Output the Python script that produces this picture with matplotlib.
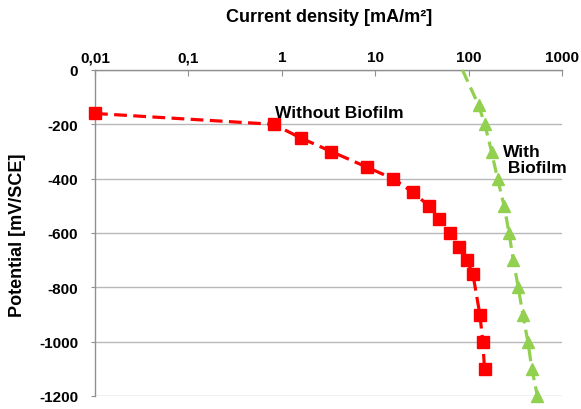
import matplotlib
matplotlib.use("Agg")
import matplotlib.pyplot as plt
import numpy as np

plt.rcParams['font.family'] = ['Liberation Sans', 'DejaVu Sans']

# Data
without_current = [0.01, 0.82, 1.59, 3.38, 8.07, 15.5, 25.3, 37.5, 48, 63.8, 79.6, 95.3, 111, 132, 142, 148]
without_potential = [-160, -200, -250, -300, -357, -400, -450, -500, -550, -600, -650, -700, -750, -900, -1000, -1100]

with_current = [86, 128, 149, 176, 204, 240, 271, 301, 340, 381, 431, 476, 545]
with_potential = [0, -130, -200, -300, -400, -500, -600, -700, -800, -900, -1000, -1100, -1200]

x_ticks = [0.01, 0.1, 1, 10, 100, 1000]
x_tick_labels = ["0,01", "0,1", "1", "10", "100", "1000"]
y_ticks = [0, -200, -400, -600, -800, -1000, -1200]

red = "#FF0000"
green = "#92D050"

fig = plt.figure(figsize=(5.81, 4.10), dpi=100)
ax = fig.add_axes([95/581, 1-397/410, (562-95)/581, (397-71)/410])

ax.set_xscale('log')
ax.set_xlim(0.01, 1000)
ax.set_ylim(-1200, 0)

ax.plot(without_current, without_potential, color=red, lw=2.3, dashes=(4, 2),
        marker='s', markersize=8.3, markerfacecolor=red, markeredgecolor=red, clip_on=False, zorder=3)
ax.plot(with_current, with_potential, color=green, lw=2.3, dashes=(4, 2), clip_on=False, zorder=3)
ax.plot(with_current[1:], with_potential[1:], linestyle='none', marker='^', markersize=8,
        markerfacecolor=green, markeredgecolor=green, clip_on=False, zorder=4)

ax.xaxis.tick_top()
ax.xaxis.set_label_position('top')
ax.set_xticks(x_ticks)
ax.set_xticklabels(x_tick_labels)
ax.xaxis.set_minor_locator(matplotlib.ticker.NullLocator())
ax.set_yticks(y_ticks)
ax.set_yticklabels([str(v) for v in y_ticks])

for lab in ax.get_xticklabels() + ax.get_yticklabels():
    lab.set_fontweight('bold')
    lab.set_fontsize(11)

ax.tick_params(axis='x', direction='in', length=4, color='#909090', pad=4)
ax.tick_params(axis='y', direction='out', length=3, color='#909090', pad=9)

ax.grid(axis='y', color='#B8B8B8', linewidth=1)
ax.set_axisbelow(True)
for s in ['right', 'bottom']:
    ax.spines[s].set_visible(False)
for s in ['left', 'top']:
    ax.spines[s].set_color('#909090')
    ax.spines[s].set_linewidth(1)

ax.set_xlabel("Current density [mA/m²]", fontsize=13, fontweight='bold')
ax.xaxis.set_label_coords(0.501, 1.163)
ax.xaxis.label.set_va('center')
ax.set_ylabel("Potential [mV/SCE]", fontsize=13, fontweight='bold')
ax.yaxis.set_label_coords(-0.165, 0.497)
ax.yaxis.label.set_va('center')

ax.text(0.85, -155, "Without Biofilm", fontsize=12.5, fontweight='bold', va='center', ha='left')
ax.text(233, -328, "With\n Biofilm", fontsize=12.5, fontweight='bold', va='center', ha='left',
        linespacing=1.1)

fig.savefig("out.png", dpi=100)
